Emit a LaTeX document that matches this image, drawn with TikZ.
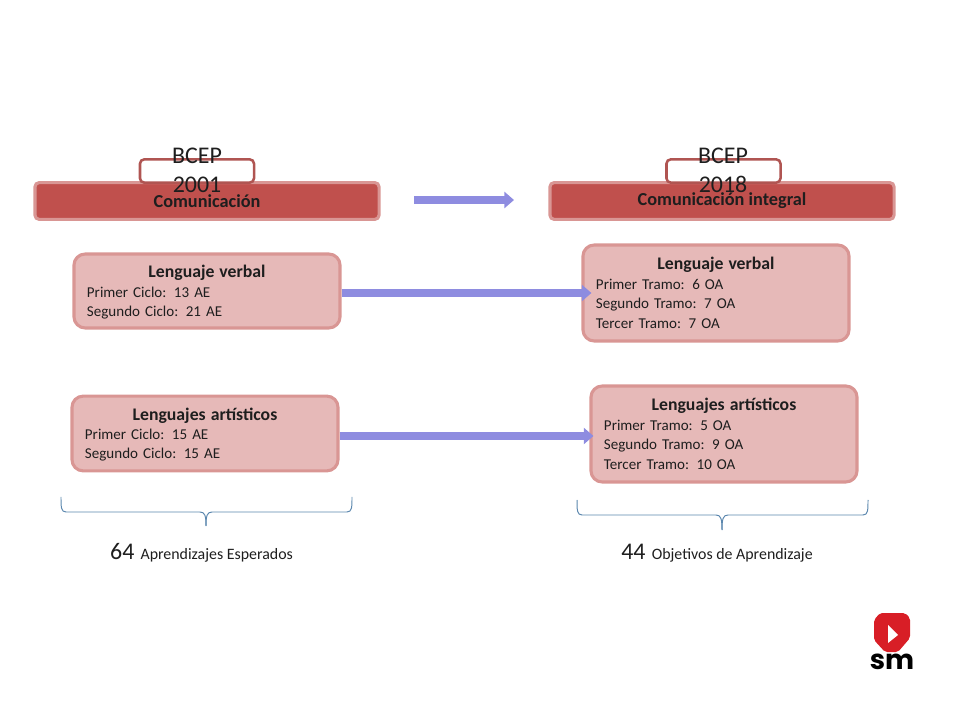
\documentclass[tikz,border=0pt]{standalone}
\usepackage{fontspec}
\setmainfont{Carlito}
\newfontfamily\logofont{Poppins}
\usetikzlibrary{arrows.meta, calc}
\definecolor{cbar}{HTML}{C0504D}
\definecolor{cedge}{HTML}{D99694}
\definecolor{cpale}{HTML}{E6B9B8}
\definecolor{ctab}{HTML}{B05552}
\definecolor{carrow}{HTML}{8E8CE0}
\definecolor{cbrace}{HTML}{5B87AE}
\definecolor{clogo}{HTML}{D81E26}
\definecolor{ctext}{HTML}{1E1E1E}
\newcommand{\boxhead}[1]{\makebox[\hsize][c]{\fontsize{12.6}{13.9}\selectfont\bfseries #1}}
\tikzset{
  every picture/.style={x=0.025cm, y=-0.025cm},
  bar/.style={draw=cedge, fill=cbar, rounded corners=3pt, line width=2.2pt, minimum width=8.6cm, minimum height=0.92cm, inner sep=0pt, text=ctext, font=\fontsize{13}{14}\selectfont\bfseries},
  tab/.style={draw=ctab, fill=white, rounded corners=3pt, line width=1.8pt, minimum width=2.85cm, minimum height=0.58cm, inner sep=0pt},
  year/.style={align=center, text=ctext, font=\fontsize{17}{20.6}\selectfont},
  card/.style={draw=cedge, fill=cpale, rounded corners=8pt, line width=2.2pt, minimum width=6.65cm, inner sep=0pt, text width=6.0cm, align=left, text=ctext, font=\fontsize{10.7}{13.9}\selectfont},
  arrow/.style={-{Triangle[length=2.4mm, width=4mm]}, draw=carrow, line width=6pt},
  curly/.style={draw=cbrace, line width=0.7pt},
  total/.style={text=ctext, font=\fontsize{11.3}{13}\selectfont},
}
\begin{document}
\begin{tikzpicture}
  \useasboundingbox (0,0) rectangle (960,720);
  % headers
  \node[bar] (com) at (207,201) {Comunicación};
  \node[bar] (int) at (722,201) {Comunicación integral};
  \node[tab] (tabold) at (197,171) {};
  \node[tab] (tabnew) at (723.5,171) {};
  \node[year] (old) at (197,170.5) {BCEP\\2001};
  \node[year] (new) at (723,170.5) {BCEP\\2018};
  \coordinate (from) at (414,200);
  \coordinate (to) at (514,200);
  \draw[arrow] (from) -- (to);
  % cards
  \node[card, minimum height=1.85cm] (verbold) at (207,291) {\raisebox{-2pt}[\height][0pt]{\boxhead{Lenguaje verbal}}\\[2pt]Primer Ciclo: 13 AE\\Segundo Ciclo: 21 AE};
  \node[card, minimum height=2.4cm] (verbnew) at (716,293) {\boxhead{Lenguaje verbal}\\Primer Tramo: 6 OA\\Segundo Tramo: 7 OA\\Tercer Tramo: 7 OA};
  \node[card, minimum height=1.87cm] (artold) at (205,433.5) {\raisebox{-2pt}[\height][0pt]{\boxhead{Lenguajes artísticos}}\\[1pt]Primer Ciclo: 15 AE\\Segundo Ciclo: 15 AE};
  \node[card, minimum height=2.4cm] (artnew) at (724,434) {\boxhead{Lenguajes artísticos}\\Primer Tramo: 5 OA\\Segundo Tramo: 9 OA\\Tercer Tramo: 10 OA};
  \draw[arrow, shorten >=-0.25cm] (verbold.east |- 0,293) -- (verbnew.west |- 0,293);
  \draw[arrow, shorten >=-0.1cm] (artold.east |- 0,436) -- (artnew.west |- 0,436);
  % braces
  \draw[curly] (61,497) .. controls (61,507) and (61,512) .. (66,512) -- (200,512) .. controls (205,512) and (206,516) .. (206,526);
  \draw[curly] (352,497) .. controls (352,507) and (352,512) .. (347,512) -- (212,512) .. controls (207,512) and (206,516) .. (206,526);
  \draw[curly] (577,500) .. controls (577,510) and (577,515) .. (582,515) -- (716,515) .. controls (721,515) and (722,519) .. (722,530);
  \draw[curly] (868,500) .. controls (868,510) and (868,515) .. (863,515) -- (728,515) .. controls (723,515) and (722,519) .. (722,530);
  \node[total] (ae) at (201.5,553) {{\fontsize{17}{20}\selectfont 64}\, Aprendizajes Esperados};
  \node[total] (oa) at (717,553) {{\fontsize{17}{20}\selectfont 44}\, Objetivos de Aprendizaje};
  % logo
  \fill[clogo, rounded corners=1.5pt] (880,613) -- (905,613) -- (910,618) -- (910,638) -- (898,652) -- (885,652) -- (874,640) -- (874,620) -- cycle;
  \fill[white] (888,625) -- (898,635) -- (888,643) -- cycle;
  \node[inner sep=0pt, text=black] (logo) at (892,662) {\fontsize{19.5}{20}\logofont\bfseries sm};
\end{tikzpicture}
\end{document}
